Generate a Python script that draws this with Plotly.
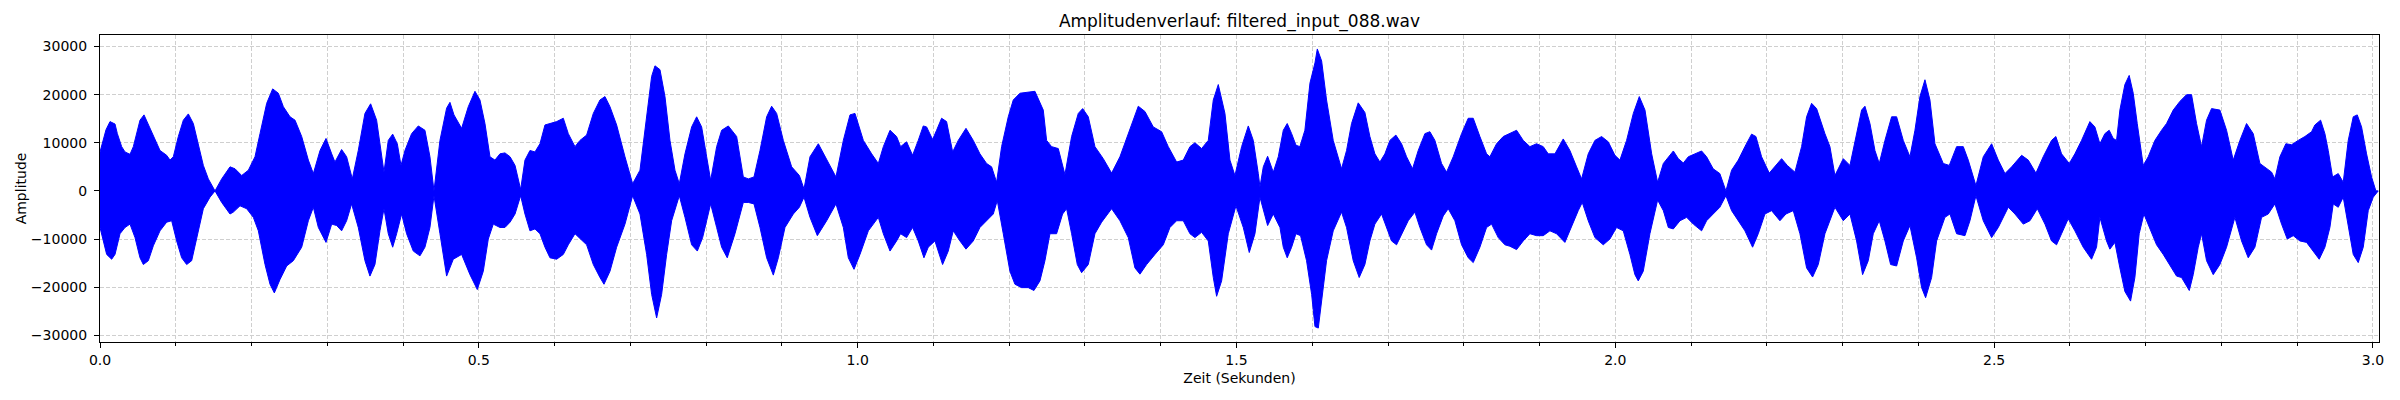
import plotly.graph_objects as go

# Amplitudenverlauf (Huellkurve der Wellenform)
title = "Amplitudenverlauf: filtered_input_088.wav"
duration = 3.008  # Sekunden

# obere Huellkurve
t_upper = [
    0.0, 0.0044, 0.0079, 0.0132, 0.0198, 0.0229, 0.0286, 0.0330, 0.0396, 0.0440,
    0.0484, 0.0528, 0.0581, 0.0638, 0.0704, 0.0792, 0.0880, 0.0924, 0.0968, 0.1034,
    0.1100, 0.1166, 0.1232, 0.1298, 0.1364, 0.1430, 0.1518, 0.1606, 0.1716, 0.1782,
    0.1870, 0.1958, 0.2046, 0.2112, 0.2200, 0.2279, 0.2354, 0.2420, 0.2508, 0.2574,
    0.2662, 0.2750, 0.2816, 0.2904, 0.2983, 0.3058, 0.3101, 0.3189, 0.3255, 0.3330,
    0.3409, 0.3497, 0.3572, 0.3651, 0.3717, 0.3748, 0.3805, 0.3863, 0.3924, 0.3973,
    0.4025, 0.4113, 0.4201, 0.4289, 0.4355, 0.4408, 0.4487, 0.4575, 0.4619, 0.4672,
    0.4773, 0.4861, 0.4949, 0.5015, 0.5081, 0.5147, 0.5213, 0.5279,
    0.5345, 0.5412, 0.5478, 0.5552, 0.5609, 0.5675, 0.5741, 0.5807, 0.5873, 0.5939,
    0.6027, 0.6115, 0.6181, 0.6269, 0.6335, 0.6423, 0.6511, 0.6599, 0.6665, 0.6731,
    0.6819, 0.6929, 0.7030, 0.7127, 0.7215, 0.7281, 0.7325, 0.7391, 0.7457, 0.7523,
    0.7589, 0.7646, 0.7721, 0.7809, 0.7875, 0.7941, 0.8007, 0.8060, 0.8139, 0.8205,
    0.8293, 0.8403, 0.8491, 0.8557, 0.8632, 0.8711, 0.8799, 0.8865, 0.8931, 0.9019,
    0.9129, 0.9231, 0.9292, 0.9371, 0.9481, 0.9591, 0.9714, 0.9811, 0.9899, 0.9965,
    1.0075, 1.0185, 1.0273, 1.0339, 1.0427, 1.0514,
    1.0567, 1.0646, 1.0725, 1.0800, 1.0866, 1.0910, 1.0989, 1.1042, 1.1108, 1.1174,
    1.1254, 1.1328, 1.1430, 1.1526, 1.1614, 1.1702, 1.1768, 1.1834, 1.1900, 1.1988,
    1.2054, 1.2142, 1.2252, 1.2340, 1.2450, 1.2494, 1.2560, 1.2648, 1.2736, 1.2824,
    1.2912, 1.2970, 1.3044, 1.3132, 1.3242, 1.3352, 1.3462, 1.3572, 1.3704, 1.3792,
    1.3902, 1.4012, 1.4100, 1.4210, 1.4298, 1.4386, 1.4452, 1.4540, 1.4628, 1.4694,
    1.4760, 1.4848, 1.4914, 1.4980, 1.5068, 1.5156, 1.5222, 1.5288, 1.5310, 1.5354,
    1.5411, 1.5486, 1.5552,
    1.5618, 1.5670, 1.5728, 1.5785, 1.5837, 1.5903, 1.5970, 1.6036, 1.6067, 1.6124,
    1.6189, 1.6277, 1.6387, 1.6453, 1.6519, 1.6607, 1.6695, 1.6761, 1.6827, 1.6893,
    1.6959, 1.7025, 1.7104, 1.7179, 1.7245, 1.7324, 1.7399, 1.7487, 1.7553, 1.7619,
    1.7707, 1.7773, 1.7861, 1.7971, 1.8059, 1.8125, 1.8213, 1.8301, 1.8345, 1.8433,
    1.8521, 1.8609, 1.8697, 1.8785, 1.8873, 1.8961, 1.9049, 1.9115, 1.9203, 1.9313,
    1.9401, 1.9489, 1.9555, 1.9643, 1.9731, 1.9819, 1.9907, 1.9995, 2.0061, 2.0149,
    2.0238, 2.0317, 2.0392, 2.0480, 2.0559, 2.0634, 2.0700, 2.0766, 2.0832, 2.0898,
    2.0964, 2.1052,
    2.1139, 2.1205, 2.1292, 2.1380, 2.1460, 2.1535, 2.1623, 2.1711, 2.1799, 2.1856,
    2.1931, 2.2032, 2.2107, 2.2195, 2.2270, 2.2371, 2.2459, 2.2525, 2.2591, 2.2657,
    2.2767, 2.2833, 2.2899, 2.3009, 2.3097, 2.3185, 2.3251, 2.3295, 2.3361, 2.3427,
    2.3484, 2.3559, 2.3647, 2.3713, 2.3801, 2.3889, 2.3955, 2.4021, 2.4087, 2.4153,
    2.4219, 2.4329, 2.4408, 2.4505, 2.4593, 2.4659, 2.4760, 2.4857, 2.4967, 2.5055,
    2.5143, 2.5231, 2.5363, 2.5451, 2.5552, 2.5648, 2.5758, 2.5815, 2.5890, 2.5992,
    2.6066, 2.6154, 2.6264, 2.6330, 2.6396,
    2.6462, 2.6519, 2.6572, 2.6616, 2.6660, 2.6726, 2.6783, 2.6836, 2.6889, 2.6968,
    2.7034, 2.7122, 2.7210, 2.7276, 2.7364, 2.7452, 2.7540, 2.7606, 2.7672, 2.7738,
    2.7804, 2.7870, 2.7980, 2.8068, 2.8156, 2.8244, 2.8332, 2.8420, 2.8508, 2.8596,
    2.8662, 2.8706, 2.8772, 2.8851, 2.8926, 2.9014, 2.9102, 2.9190, 2.9234, 2.9309,
    2.9366, 2.9410, 2.9467, 2.9542, 2.9608, 2.9674, 2.9740, 2.9793, 2.9850, 2.9916,
    2.9982, 3.0039, 3.0070,
]
a_upper = [
    8100, 10500, 12700, 14400, 13900, 11900, 9200, 8100, 7600, 9200,
    12300, 14700, 15800, 13700, 11300, 8400, 7400, 6400, 7100, 11300,
    14700, 16000, 14000, 9900, 5300, 2500, 0, 2500, 5000, 4600,
    3200, 4300, 7100, 11900, 18200, 21200, 20300, 17500, 15400, 14700,
    11300, 6400, 3600, 8400, 10900, 7700, 6000, 8600, 7100, 2500,
    8400, 16100, 18100, 14700, 7100, 3900, 10500, 11800, 9800, 5300,
    8400, 11900, 13500, 12600, 7100, 0, 10500, 17200, 18400, 15800,
    13000, 17500, 20700, 18900, 14000, 7100, 6400, 7700,
    7900, 7100, 5300, 300, 6400, 8400, 8100, 9800, 13700, 14000,
    14400, 15100, 11900, 9200, 10500, 11600, 16100, 18900, 19600, 17500,
    13700, 7100, 1500, 4300, 16100, 23800, 26000, 25200, 19600, 10500,
    4300, 1500, 7700, 13300, 15400, 13300, 7100, 2200, 9200, 12600,
    13500, 11300, 2900, 2500, 2900, 8400, 15400, 17600, 16100, 10500,
    5000, 3200, 400, 7100, 9800, 6400, 2900, 10500, 15800, 16100,
    10500, 7700, 5700, 9200, 12600, 11300,
    9200, 10200, 7400, 10500, 13500, 13300, 10700, 12600, 15100, 14400,
    8100, 10500, 13000, 10500, 7700, 5700, 5000, 1800, 9200, 15400,
    18900, 20300, 20500, 20700, 16800, 10500, 9200, 8800, 3400, 11300,
    16100, 17100, 15400, 9200, 6700, 3700, 7100, 11900, 17600, 16500,
    13300, 12300, 9200, 6000, 6400, 9200, 10000, 8800, 10500, 18900,
    22100, 16100, 6400, 3200, 9200, 13500, 10500, 3600, 800, 5000,
    7200, 3900, 7100,
    12600, 14000, 11900, 9500, 9200, 12600, 22400, 26600, 29500, 27000,
    18900, 10500, 4600, 8400, 14000, 18300, 16300, 11300, 7700, 6000,
    7700, 10500, 11600, 9800, 7100, 4600, 8400, 11900, 12300, 10500,
    5700, 3900, 7100, 11900, 15100, 15100, 11300, 7700, 7100, 9800,
    11300, 11900, 12600, 10500, 9200, 9800, 9200, 7700, 7700, 10800,
    8400, 5000, 2500, 7700, 10500, 11300, 10200, 7400, 6400, 10500,
    16100, 19600, 16800, 7700, 1800, 5700, 7100, 8300, 6700, 5800,
    7100, 7700,
    8300, 7100, 4600, 3600, 0, 4300, 6400, 9200, 11800, 11300,
    7100, 3700, 5000, 6700, 5300, 3900, 9200, 15400, 18200, 17100,
    11900, 9200, 3200, 6700, 5300, 11900, 16800, 17600, 14000, 8400,
    5700, 10500, 15400, 15400, 10500, 7100, 12600, 19600, 23100, 18900,
    9800, 5700, 5300, 9200, 9200, 6400, 1100, 7100, 9800, 6400,
    3600, 5000, 7400, 6400, 3700, 7100, 10500, 11300, 7700, 5700,
    7700, 10500, 14400, 13300, 9800,
    11900, 12600, 10900, 10500, 16800, 22100, 24000, 20300, 14000, 5300,
    7100, 10500, 12600, 14000, 16800, 18600, 20000, 20000, 14000, 9200,
    14700, 17100, 16800, 12600, 6400, 10500, 14000, 11900, 5700, 4600,
    3900, 2500, 7100, 9800, 9600, 10500, 11300, 12300, 13700, 14700,
    11900, 8400, 2900, 3600, 1800, 10500, 15400, 15800, 13300, 7700,
    2900, 0, 0,
]

# untere Huellkurve
t_lower = [
    0.0, 0.0044, 0.0088, 0.0154, 0.0198, 0.0264, 0.0330, 0.0396, 0.0462, 0.0528,
    0.0572, 0.0638, 0.0704, 0.0792, 0.0880, 0.0946, 0.1012, 0.1078, 0.1144, 0.1210,
    0.1276, 0.1364, 0.1452, 0.1518, 0.1606, 0.1716, 0.1760, 0.1848, 0.1936, 0.2024,
    0.2090, 0.2178, 0.2244, 0.2301, 0.2376, 0.2464, 0.2552, 0.2662, 0.2750, 0.2816,
    0.2882, 0.2983, 0.3058, 0.3124, 0.3189, 0.3255, 0.3321, 0.3409, 0.3497, 0.3563,
    0.3629, 0.3695, 0.3748, 0.3805, 0.3863, 0.3915, 0.3981, 0.4047, 0.4135, 0.4223,
    0.4289, 0.4355, 0.4408, 0.4487, 0.4575, 0.4663, 0.4773, 0.4883, 0.4980, 0.5059,
    0.5125, 0.5191, 0.5279,
    0.5345, 0.5412, 0.5478, 0.5552, 0.5609, 0.5675, 0.5741, 0.5807, 0.5873, 0.5939,
    0.6027, 0.6115, 0.6181, 0.6269, 0.6335, 0.6423, 0.6511, 0.6599, 0.6652, 0.6731,
    0.6819, 0.6929, 0.7030, 0.7127, 0.7215, 0.7281, 0.7347, 0.7413, 0.7479, 0.7545,
    0.7646, 0.7721, 0.7809, 0.7884, 0.7954, 0.8007, 0.8060, 0.8139, 0.8205, 0.8279,
    0.8381, 0.8491, 0.8557, 0.8632, 0.8711, 0.8799, 0.8887, 0.8953, 0.9041, 0.9151,
    0.9231, 0.9292, 0.9371, 0.9468, 0.9591, 0.9714, 0.9811, 0.9877, 0.9952, 1.0031,
    1.0141, 1.0273, 1.0339, 1.0427, 1.0514,
    1.0567, 1.0646, 1.0725, 1.0800, 1.0875, 1.0932, 1.1020, 1.1121, 1.1196, 1.1262,
    1.1350, 1.1430, 1.1526, 1.1614, 1.1702, 1.1790, 1.1843, 1.1922, 1.2010, 1.2076,
    1.2164, 1.2252, 1.2327, 1.2406, 1.2472, 1.2538, 1.2626, 1.2705, 1.2758, 1.2824,
    1.2899, 1.2956, 1.3044, 1.3132, 1.3220, 1.3352, 1.3462, 1.3572, 1.3660, 1.3726,
    1.3814, 1.3924, 1.4034, 1.4122, 1.4210, 1.4298, 1.4386, 1.4452, 1.4540, 1.4628,
    1.4694, 1.4738, 1.4804, 1.4892, 1.4993, 1.5090, 1.5169, 1.5244, 1.5310, 1.5354,
    1.5411, 1.5486, 1.5574,
    1.5618, 1.5670, 1.5728, 1.5785, 1.5846, 1.5925, 1.5992, 1.6036, 1.6080, 1.6124,
    1.6189, 1.6277, 1.6387, 1.6453, 1.6541, 1.6620, 1.6695, 1.6761, 1.6827, 1.6915,
    1.6981, 1.7047, 1.7113, 1.7179, 1.7267, 1.7355, 1.7421, 1.7509, 1.7575, 1.7641,
    1.7729, 1.7795, 1.7883, 1.7971, 1.8059, 1.8125, 1.8213, 1.8301, 1.8367, 1.8455,
    1.8543, 1.8609, 1.8697, 1.8785, 1.8873, 1.8961, 1.9049, 1.9137, 1.9225, 1.9335,
    1.9423, 1.9511, 1.9564, 1.9643, 1.9731, 1.9841, 1.9929, 2.0017, 2.0105, 2.0193,
    2.0259, 2.0303, 2.0369, 2.0457, 2.0559, 2.0634, 2.0700, 2.0766, 2.0854, 2.0942,
    2.1030,
    2.1139, 2.1205, 2.1292, 2.1380, 2.1460, 2.1535, 2.1623, 2.1711, 2.1812, 2.1887,
    2.1975, 2.2063, 2.2173, 2.2252, 2.2349, 2.2437, 2.2525, 2.2604, 2.2679, 2.2767,
    2.2899, 2.3009, 2.3097, 2.3185, 2.3264, 2.3339, 2.3405, 2.3484, 2.3559, 2.3634,
    2.3713, 2.3801, 2.3889, 2.3977, 2.4043, 2.4096, 2.4175, 2.4241, 2.4351, 2.4417,
    2.4505, 2.4615, 2.4681, 2.4760, 2.4857, 2.4967, 2.5055, 2.5187, 2.5275, 2.5385,
    2.5473, 2.5570, 2.5671, 2.5758, 2.5824, 2.5890, 2.5978, 2.6066, 2.6176, 2.6286,
    2.6352,
    2.6396, 2.6484, 2.6528, 2.6594, 2.6660, 2.6726, 2.6801, 2.6858, 2.6915, 2.6977,
    2.7056, 2.7144, 2.7232, 2.7320, 2.7408, 2.7474, 2.7518, 2.7576, 2.7628, 2.7694,
    2.7738, 2.7804, 2.7892, 2.7980, 2.8068, 2.8178, 2.8266, 2.8354, 2.8442, 2.8530,
    2.8618, 2.8706, 2.8794, 2.8869, 2.8948, 2.9036, 2.9124, 2.9212, 2.9291, 2.9366,
    2.9432, 2.9476, 2.9542, 2.9608, 2.9674, 2.9740, 2.9806, 2.9872, 2.9938, 3.0004,
    3.0070,
]
a_lower = [
    -7600, -10400, -13200, -14200, -13200, -8900, -7600, -6900, -9700, -13900,
    -15300, -14500, -11400, -8300, -6500, -6200, -10400, -13900, -15300, -14500,
    -10000, -3700, -1300, 0, -2400, -4800, -4400, -3100, -3700, -5500,
    -8300, -15300, -19400, -21200, -18400, -15600, -14500, -11700, -6200, -3400,
    -7600, -10700, -6900, -7200, -8300, -6200, -2700, -7600, -14500, -17700,
    -15300, -8300, -3700, -8900, -11700, -8900, -4800, -8900, -12500, -13500,
    -11700, -7600, -1000, -8900, -17700, -14200, -13200, -17400, -20500, -16700,
    -10000, -6900, -7600,
    -7600, -6500, -4800, -1000, -4800, -8300, -7900, -8900, -11700, -13900,
    -14200, -13200, -11200, -8900, -10000, -11200, -15300, -18000, -19400, -16700,
    -11700, -6900, -1000, -4800, -13200, -21500, -26400, -21500, -13200, -6200,
    -1000, -5500, -11200, -12500, -9700, -6200, -2700, -7600, -11700, -13900,
    -8900, -2400, -2400, -2700, -7600, -13900, -17500, -13900, -7600, -4800,
    -3400, -1300, -5500, -9300, -6200, -2700, -7600, -13900, -16300, -13200,
    -8300, -5500, -8900, -12500, -10400,
    -8900, -9700, -7600, -10400, -13900, -11700, -10400, -15300, -12500, -8300,
    -10400, -12100, -10400, -7600, -6200, -4800, -2000, -8900, -16700, -19400,
    -20100, -20100, -20700, -18700, -14500, -8900, -8900, -4800, -3700, -8900,
    -15300, -17000, -15300, -8900, -6500, -3700, -6200, -9700, -16000, -17300,
    -15300, -13200, -11200, -7600, -6200, -6200, -8900, -9700, -8600, -10400,
    -18000, -21900, -18700, -8900, -3100, -7600, -12800, -8900, -1300, -4100,
    -7200, -4800, -7600,
    -11700, -13900, -11700, -8900, -9300, -14500, -21500, -28200, -28500, -23600,
    -14500, -8300, -4400, -7600, -14500, -18000, -15300, -10400, -6900, -4800,
    -7600, -10400, -11200, -8900, -6200, -4400, -7600, -11200, -12300, -8900,
    -5200, -3700, -6200, -11200, -13900, -14900, -11700, -7600, -6900, -9700,
    -11200, -11500, -12200, -10400, -8900, -9300, -9300, -8300, -8900, -10700,
    -7600, -4100, -2400, -6200, -9700, -11200, -10000, -7600, -8300, -13200,
    -17400, -18700, -16700, -8900, -1900, -4100, -7600, -7900, -6200, -5500,
    -6900,
    -8300, -6200, -4800, -3400, -1000, -4100, -6200, -8300, -11700, -8900,
    -4800, -4100, -6200, -4800, -4100, -8900, -16000, -17900, -15300, -8900,
    -3400, -6200, -4800, -10400, -17400, -14500, -8900, -6200, -10400, -15300,
    -15600, -10400, -7200, -13900, -20100, -22200, -18000, -10400, -5500, -4800,
    -8900, -9300, -6200, -1000, -6200, -9700, -7600, -3400, -4800, -6900,
    -6200, -3700, -6900, -10400, -11200, -8900, -5800, -8300, -11700, -14200,
    -11700,
    -5500, -10400, -12100, -10700, -16000, -20900, -22900, -18000, -8900, -4800,
    -7600, -11200, -13200, -15300, -17700, -18000, -19100, -20700, -17400, -11700,
    -8900, -14500, -17400, -15300, -11700, -5500, -10400, -13900, -11700, -5500,
    -4800, -2700, -6900, -10000, -9300, -10400, -10700, -12500, -14200, -11700,
    -7600, -2700, -3400, -1300, -7600, -13200, -14900, -11700, -4100, -1300,
    0,
]

# Umriss: obere Kurve vorwaerts, untere Kurve rueckwaerts
x_poly = t_upper + t_lower[::-1]
y_poly = a_upper + a_lower[::-1]

# y-Bereich wie matplotlib-Autoskalierung (5 % Rand)
y_max, y_min = max(a_upper), min(a_lower)
span = y_max - y_min
y_range = [y_min - 0.05 * span, y_max + 0.05 * span]

font = "DejaVu Sans"
grid = dict(showgrid=True, gridcolor="#cfcfcf", griddash="4px,2px", gridwidth=1)

fig = go.Figure()
fig.add_trace(go.Scatter(
    x=x_poly, y=y_poly, mode="lines", fill="toself",
    fillcolor="#0000ff", line=dict(color="#0000ff", width=1),
    hoverinfo="skip", showlegend=False,
))

fig.update_layout(
    width=2400, height=400,
    margin=dict(l=100, r=21, t=35, b=58),
    plot_bgcolor="white", paper_bgcolor="white",
    font=dict(family=font, size=14, color="black"),
    title=dict(text=title, x=0.5, xref="paper", y=0.948, yref="container",
               yanchor="middle", font=dict(size=17, color="black")),
)
fig.update_xaxes(
    range=[0, duration], dtick=0.5, tick0=0, tickformat=".1f",
    showline=True, mirror=True, linecolor="black", linewidth=1.1,
    ticks="outside", ticklen=5, tickwidth=1, tickcolor="black",
    zeroline=False, **grid,
    minor=dict(dtick=0.1, tick0=0, ticks="outside", ticklen=3, tickcolor="black",
               showgrid=True, gridcolor="#cfcfcf", griddash="4px,2px", gridwidth=1),
    title=dict(text="Zeit (Sekunden)", standoff=6, font=dict(size=14)),
)
fig.update_yaxes(
    range=y_range, dtick=10000, tick0=0, tickformat="d",
    showline=True, mirror=True, linecolor="black", linewidth=1.1,
    ticks="outside", ticklen=5, tickwidth=1, tickcolor="black",
    zeroline=False, ticklabelstandoff=4, **grid,
    title=dict(text="Amplitude", standoff=0, font=dict(size=14)),
)

# Seitenrand des HTML-Body entfernen, damit die Grafik bei (0, 0) beginnt
fig.write_html("out.html", config={"displayModeBar": False},
               post_script="document.body.style.margin='0px';")
